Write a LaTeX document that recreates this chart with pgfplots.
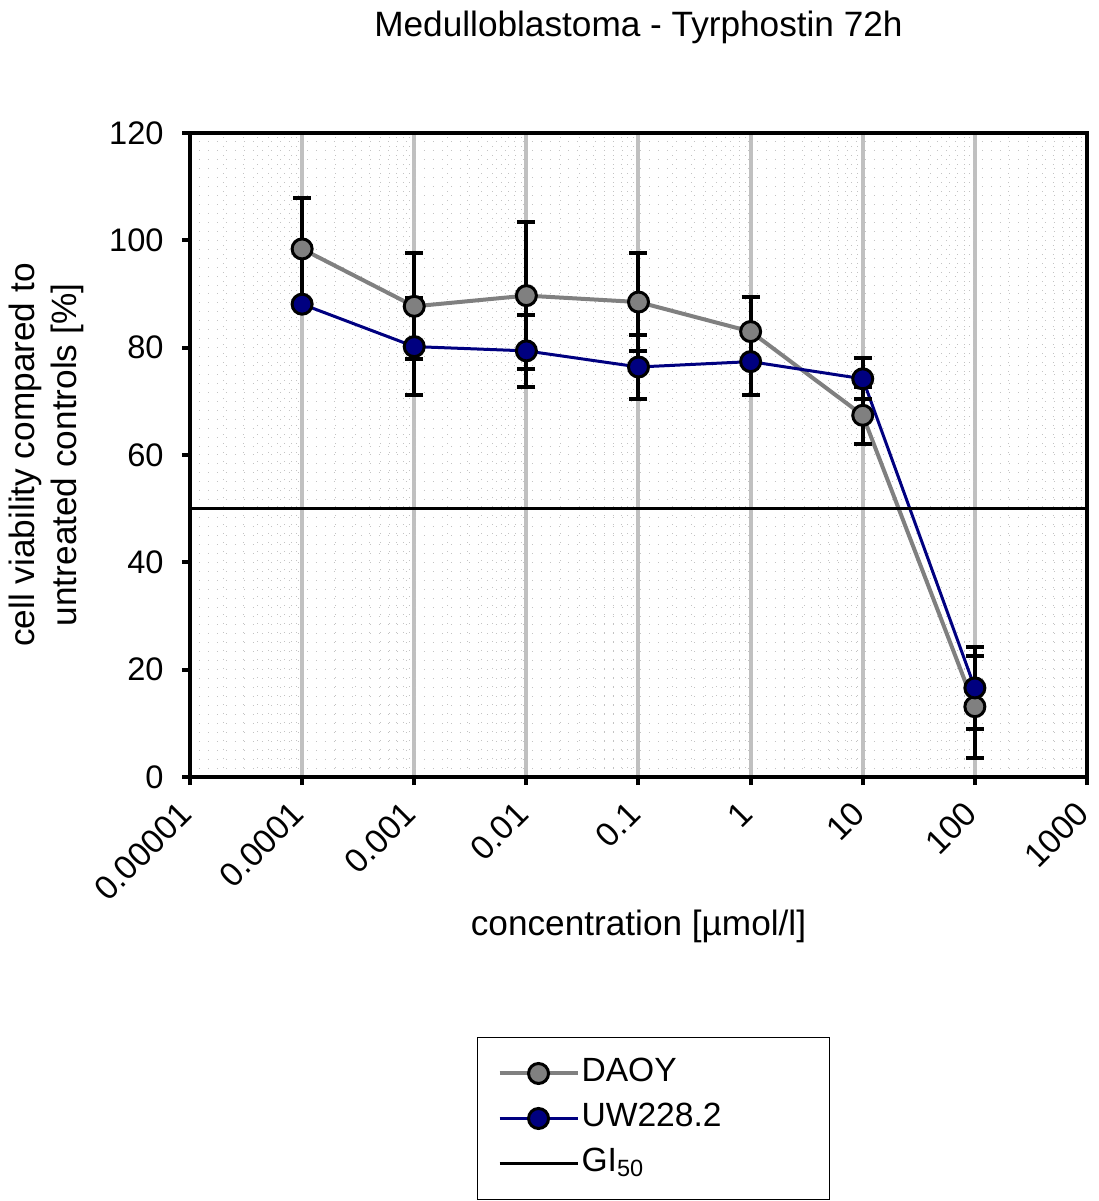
\documentclass[border=0pt]{standalone}
\usepackage{fontspec}
\setmainfont{Liberation Sans}
\usepackage{pgfplots}
\pgfplotsset{compat=1.18}

\definecolor{daoy}{RGB}{128,128,128}
\definecolor{uw}{RGB}{0,0,128}
\definecolor{majgrid}{RGB}{192,192,192}
\definecolor{mingrid}{RGB}{195,195,195}

\begin{document}
\begin{tikzpicture}
\path[use as bounding box] (0pt,0pt) rectangle (549.5pt,600.5pt);
\begin{axis}[
    at={(95pt,212pt)}, anchor=south west,
    scale only axis, width=448.5pt, height=322pt,
    xmode=log, xmin=1e-5, xmax=1000,
    ymin=0, ymax=120,
    xtick={1e-5,1e-4,1e-3,1e-2,1e-1,1,10,100,1000},
    xticklabels={0.00001,0.0001,0.001,0.01,0.1,1,10,100,1000},
    ytick={0,20,...,120},
    minor y tick num=11,
    /pgf/number format/assume math mode=true,
    axis line style={black, line width=2pt},
    tick align=outside, tick pos=left,
    major tick length=4pt, minor tick length=0pt,
    major tick style={black, line width=2pt},
    xmajorgrids, ymajorgrids, xminorgrids, yminorgrids,
    major x grid style={majgrid, line width=2pt},
    major y grid style={mingrid, line width=0.5pt, dash pattern=on 0.5pt off 4pt},
    minor grid style={mingrid, line width=0.5pt, dash pattern=on 0.5pt off 4pt},
    yticklabel style={font=\fontsize{16.3}{19}\selectfont,
        anchor=east, inner sep=0pt, xshift=-9pt},
    xticklabel style={font=\fontsize{16.8}{19}\selectfont,
        xshift=-2pt, yshift=-11.5pt, rotate=45, anchor=east, inner sep=0pt},
    title={Medulloblastoma - Tyrphostin 72h},
    title style={at={(axis description cs:0.5,1)}, anchor=base, yshift=42pt,
        font=\fontsize{17.6}{21}\selectfont},
    xlabel={concentration [µmol/l]},
    xlabel style={at={(axis description cs:0.5,0)}, anchor=base, yshift=-79pt,
        font=\fontsize{17.6}{21}\selectfont},
    ylabel={cell viability compared to\\untreated controls [\%]},
    ylabel style={at={(axis description cs:-0.1605,0.5)}, anchor=center,
        align=center, font=\fontsize{17.6}{21}\selectfont},
    legend cell align=left,
    legend image code/.code={\draw[mark repeat=2,mark phase=2,#1]
        plot coordinates {(0pt,0pt) (19.5pt,0pt) (39pt,0pt)};},
    legend style={at={(0.32,-0.4037)}, anchor=north west,
        draw=black, line width=0.5pt,
        inner xsep=10pt, inner ysep=10pt,
        column sep=1pt, row sep=6.5pt,
        nodes={inner sep=0pt, text height=12pt, text depth=4pt},
        font=\fontsize{16.8}{20}\selectfont},
    error bars/error bar style={black, line width=2pt},
    error bars/error mark options={black, rotate=90, mark size=4.5pt, line width=2pt},
]
\addplot[daoy, line width=2pt, mark=*, mark size=5pt,
    mark options={fill=daoy, draw=black, line width=1.5pt},
    error bars/.cd, y dir=both, y explicit]
coordinates {
    (1e-4,98.4) +- (0,9.5)
    (1e-3,87.7) +- (0,9.9)
    (1e-2,89.7) +- (0,13.7)
    (1e-1,88.5) +- (0,9.1)
    (1,83.0) +- (0,6.5)
    (10,67.4) +- (0,5.3)
    (100,13.1) +- (0,9.5)
};
\addlegendentry{\makebox[114pt][l]{DAOY}}
\addplot[uw, line width=1.5pt, mark=*, mark size=5pt,
    mark options={fill=uw, draw=black, line width=1.5pt},
    error bars/.cd, y dir=both, y explicit]
coordinates {
    (1e-4,88.1) +- (0,0.8)
    (1e-3,80.2) +- (0,9.0)
    (1e-2,79.4) +- (0,6.7)
    (1e-1,76.4) +- (0,6.0)
    (1,77.4) +- (0,6.2)
    (10,74.2) +- (0,3.8)
    (100,16.6) +- (0,7.6)
};
\addlegendentry{\makebox[114pt][l]{UW228.2}}
\addplot[black, line width=1.5pt] coordinates {(1e-5,50) (1000,50)};
\addlegendentry{\makebox[114pt][l]{GI\textsubscript{50}}}
\end{axis}
\end{tikzpicture}
\end{document}
